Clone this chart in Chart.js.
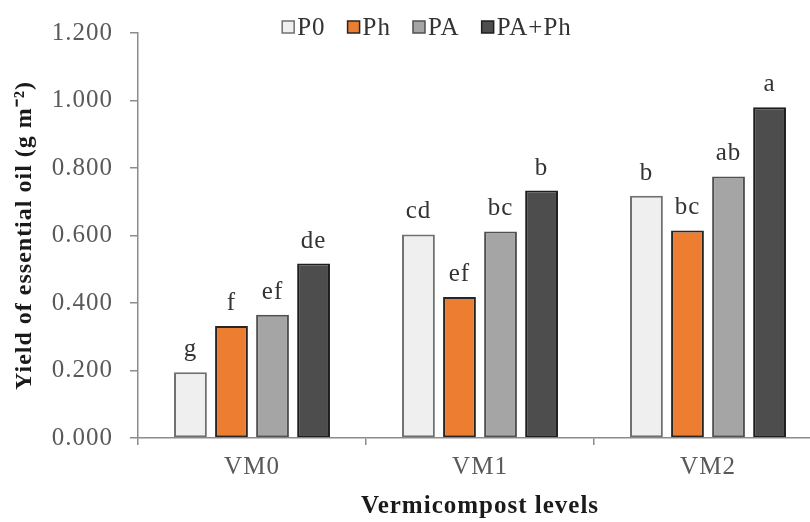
<!DOCTYPE html>
<html><head><meta charset="utf-8">
<script src="https://cdn.jsdelivr.net/npm/chart.js@4.4.1/dist/chart.umd.min.js"></script>
<style>html,body{margin:0;padding:0;overflow:hidden;background:#fff;width:810px;height:522px}canvas{display:block}</style>
</head><body><canvas id="c" width="822" height="522"></canvas>
<script>
const categories = ['VM0', 'VM1', 'VM2'];
const seriesNames = ['P0', 'Ph', 'PA', 'PA+Ph'];
const valuesP0 = [0.195, 0.603, 0.718];
const valuesPh = [0.332, 0.418, 0.615];
const valuesPA = [0.365, 0.612, 0.775];
const valuesPAPh = [0.517, 0.733, 0.980];
const lettersP0 = ['g', 'cd', 'b'];
const lettersPh = ['f', 'ef', 'bc'];
const lettersPA = ['ef', 'bc', 'ab'];
const lettersPAPh = ['de', 'b', 'a'];
const yTickLabels = ['0.000', '0.200', '0.400', '0.600', '0.800', '1.000', '1.200'];

const SERIF = '"Liberation Serif", "Times New Roman", serif';
const SPACING = '1px';
Chart.defaults.font.family = SERIF;

const fills = ['#efefef', '#ed7d31', '#a5a5a5', '#4d4d4d'];
const borders = ['#707070', '#262626', '#505050', '#1e1e1e'];
const allValues = [valuesP0, valuesPh, valuesPA, valuesPAPh];
const allLetters = [lettersP0, lettersPh, lettersPA, lettersPAPh];

const datasets = seriesNames.map((n, i) => ({
  label: n,
  data: allValues[i],
  letters: allLetters[i],
  backgroundColor: fills[i],
  borderColor: borders[i],
  borderWidth: 2,
  borderSkipped: false,
  categoryPercentage: 0.72,
  barPercentage: 0.8
}));

const spacingPlugin = {
  id: 'spacing',
  beforeUpdate(c) { c.ctx.letterSpacing = SPACING; },
  beforeDraw(c) { c.ctx.letterSpacing = SPACING; }
};

const letterPlugin = {
  id: 'letters',
  afterDatasetsDraw(c) {
    const ctx = c.ctx;
    ctx.save();
    ctx.font = '25px ' + SERIF;
    ctx.fillStyle = '#333333';
    ctx.textAlign = 'center';
    ctx.textBaseline = 'alphabetic';
    c.data.datasets.forEach((ds, di) => {
      c.getDatasetMeta(di).data.forEach((bar, i) => {
        ctx.fillText(ds.letters[i], bar.x, bar.y - 16);
      });
    });
    ctx.restore();
  }
};

const legendPlugin = {
  id: 'customLegend',
  afterDraw(c) {
    const ctx = c.ctx;
    ctx.save();
    ctx.font = '25px ' + SERIF;
    ctx.textBaseline = 'middle';
    ctx.textAlign = 'left';
    const box = 12, gapText = 3, gapItem = 22, cy = 27, cx = 427;
    const widths = c.data.datasets.map(ds => box + gapText + ctx.measureText(ds.label).width);
    const total = widths.reduce((a, b) => a + b, 0) + gapItem * (widths.length - 1);
    let x = cx - total / 2;
    c.data.datasets.forEach((ds, i) => {
      ctx.fillStyle = ds.backgroundColor;
      ctx.fillRect(x, cy - box / 2, box, box);
      ctx.lineWidth = 1.5;
      ctx.strokeStyle = ds.borderColor;
      ctx.strokeRect(x, cy - box / 2, box, box);
      ctx.fillStyle = '#333333';
      ctx.fillText(ds.label, x + box + gapText, cy + 1);
      x += widths[i] + gapItem;
    });
    ctx.restore();
  }
};

new Chart(document.getElementById('c'), {
  type: 'bar',
  data: { labels: categories, datasets },
  plugins: [spacingPlugin, letterPlugin, legendPlugin],
  options: {
    responsive: false,
    animation: false,
    devicePixelRatio: 1,
    layout: { padding: { top: 33, left: 0, right: 0, bottom: 0 } },
    plugins: { legend: { display: false }, tooltip: { enabled: false } },
    scales: {
      x: {
        afterFit(s) { s.height = 84; },
        grid: { offset: true, drawOnChartArea: false, drawTicks: true, tickLength: 7, color: '#8c8c8c', lineWidth: 1.5 },
        border: { color: '#8c8c8c', width: 1.5 },
        ticks: { color: '#595959', font: { size: 25 }, padding: 7 },
        title: { display: true, text: 'Vermicompost levels', color: '#1a1a1a', font: { size: 25, weight: 'bold' }, padding: { top: 0, bottom: 0 } }
      },
      y: {
        min: 0, max: 1.2,
        afterFit(s) { s.width = 138; },
        grid: { drawOnChartArea: false, drawTicks: true, tickLength: 8, color: '#8c8c8c', lineWidth: 1.5 },
        border: { color: '#8c8c8c', width: 1.5 },
        ticks: { stepSize: 0.2, color: '#595959', font: { size: 25 }, padding: 17, callback: (v, i) => yTickLabels[i] },
        title: { display: true, text: 'Yield of essential oil (g m\u207B\u00B2)', color: '#1a1a1a', font: { size: 24, weight: 'bold' }, padding: { top: 10, bottom: 0 } }
      }
    }
  }
});
</script></body></html>
